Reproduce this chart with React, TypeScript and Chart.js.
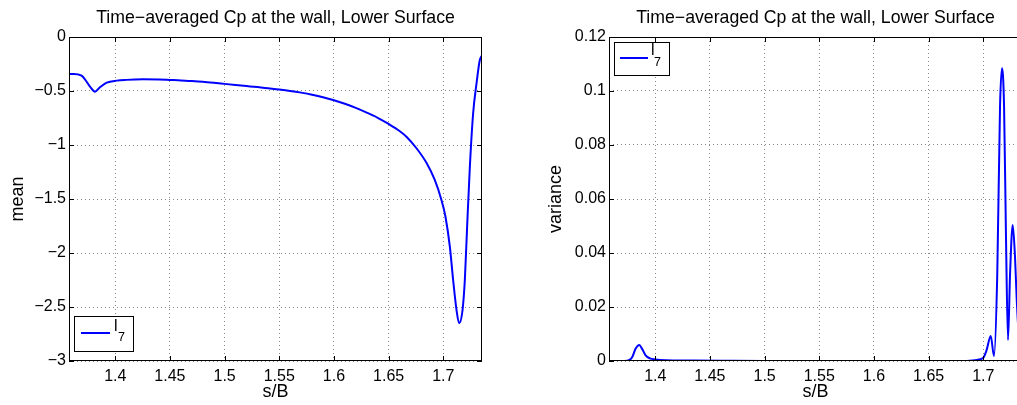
import React, { useEffect, useRef } from 'react';
import { Chart, registerables } from 'chart.js';

Chart.register(...registerables);

// ---------- data ----------
const meanS = [
  1.3577, 1.362, 1.366, 1.3695, 1.3723, 1.3769, 1.3815, 1.386, 1.3922, 1.4013, 1.41,
  1.4256, 1.44, 1.45, 1.46, 1.47, 1.48, 1.49, 1.5, 1.51, 1.52, 1.53, 1.54, 1.55, 1.56,
  1.57, 1.58, 1.59, 1.6, 1.61, 1.62, 1.63, 1.64, 1.65, 1.66, 1.6663, 1.6755, 1.6846,
  1.6922, 1.6983, 1.702, 1.706, 1.709, 1.7121, 1.7145, 1.7176, 1.7197, 1.7218, 1.7243,
  1.7273, 1.7304, 1.7334, 1.7354,
];
const meanValues = [
  -0.343, -0.343, -0.346, -0.36, -0.392, -0.46, -0.506, -0.466, -0.423, -0.404, -0.397,
  -0.392, -0.394, -0.398, -0.402, -0.408, -0.415, -0.424, -0.434, -0.444, -0.454, -0.464,
  -0.475, -0.486, -0.499, -0.515, -0.534, -0.557, -0.585, -0.618, -0.656, -0.7, -0.748,
  -0.805, -0.87, -0.923, -1.03, -1.165, -1.324, -1.509, -1.664, -1.941, -2.25, -2.528,
  -2.65, -2.528, -2.25, -1.756, -1.2, -0.706, -0.429, -0.213, -0.17,
];

const varS = [
  1.3577, 1.372, 1.376, 1.379, 1.382, 1.3854, 1.388, 1.391, 1.395, 1.4, 1.41, 1.43,
  1.46, 1.5, 1.6, 1.68, 1.69, 1.695, 1.7, 1.703, 1.7068, 1.7098, 1.7128, 1.7153,
  1.7171, 1.719, 1.7208, 1.7226, 1.7245, 1.7269, 1.729, 1.7306, 1.733, 1.7354,
];
const varValues = [
  0, 0, 0.0003, 0.0015, 0.0045, 0.0059, 0.0045, 0.0022, 0.001, 0.0006, 0.0003, 0.0002,
  0.0001, 0, 0, 0, 0.0002, 0.0005, 0.0012, 0.004, 0.0093, 0.0018, 0.0325, 0.0942,
  0.1084, 0.0942, 0.0448, 0.0078, 0.0325, 0.0504, 0.0386, 0.0226, 0.008, 0.012,
];

const xTicks = [1.4, 1.45, 1.5, 1.55, 1.6, 1.65, 1.7];
const meanTicks = [0, -0.5, -1, -1.5, -2, -2.5, -3];
const varTicks = [0, 0.02, 0.04, 0.06, 0.08, 0.1, 0.12];

const titleText = 'Time\u2212averaged Cp at the wall, Lower Surface';
const xLabel = 's/B';
const meanLabel = 'mean';
const varLabel = 'variance';
const legendMain = 'l';
const legendSub = '7';

const X_MIN = 1.3577;
const X_MAX = 1.7354;

const FONT = '"Liberation Sans", Arial, Helvetica, sans-serif';

const fmt = (v: number) => (v < 0 ? '\u2212' + String(Math.abs(v)) : String(v));

type LegendLayout = {
  anchor: 'top' | 'bottom';
  box: [number, number, number, number];
  line: [number, number, number];
  mainPos: [number, number];
  subPos: [number, number];
};

function makeConfig(
  xs: number[],
  ys: number[],
  yTicks: number[],
  yMin: number,
  yMax: number,
  yLabel: string,
  yAxisWidth: number,
  yTitlePad: number,
  legend: LegendLayout
): any {
  const deco = {
    id: 'deco',
    afterDraw(chart: any) {
      const ctx = chart.ctx;
      const a = chart.chartArea;
      const xs_ = chart.scales.x;
      const ys_ = chart.scales.y;
      ctx.save();
      ctx.strokeStyle = '#000';
      ctx.lineWidth = 1;
      ctx.strokeRect(a.left + 0.5, a.top + 0.5, a.right - a.left - 1, a.bottom - a.top - 1);
      ctx.beginPath();
      const tl = 5;
      for (const v of xTicks) {
        const px = Math.round(xs_.getPixelForValue(v)) + 0.5;
        ctx.moveTo(px, a.bottom);
        ctx.lineTo(px, a.bottom - tl);
        ctx.moveTo(px, a.top);
        ctx.lineTo(px, a.top + tl);
      }
      for (const v of yTicks) {
        const py = Math.round(ys_.getPixelForValue(v)) + 0.5;
        ctx.moveTo(a.left, py);
        ctx.lineTo(a.left + tl, py);
        ctx.moveTo(a.right, py);
        ctx.lineTo(a.right - tl, py);
      }
      ctx.stroke();
      ctx.fillStyle = '#000';
      ctx.font = `17.7px ${FONT}`;
      ctx.textAlign = 'center';
      ctx.textBaseline = 'alphabetic';
      ctx.fillText(titleText, (a.left + a.right) / 2, 22.5);
      const ox = a.left;
      const oy = legend.anchor === 'top' ? a.top : a.bottom;
      const [bx, by, bw, bh] = legend.box;
      ctx.fillStyle = '#fff';
      ctx.fillRect(ox + bx, oy + by, bw, bh);
      ctx.strokeStyle = '#000';
      ctx.lineWidth = 1;
      ctx.strokeRect(ox + bx + 0.5, oy + by + 0.5, bw, bh);
      ctx.strokeStyle = '#0000ff';
      ctx.lineWidth = 2;
      ctx.beginPath();
      ctx.moveTo(ox + legend.line[0], oy + legend.line[2]);
      ctx.lineTo(ox + legend.line[1], oy + legend.line[2]);
      ctx.stroke();
      ctx.fillStyle = '#000';
      ctx.textAlign = 'left';
      ctx.font = `16px ${FONT}`;
      ctx.fillText(legendMain, ox + legend.mainPos[0], oy + legend.mainPos[1]);
      ctx.font = `12.5px ${FONT}`;
      ctx.fillText(legendSub, ox + legend.subPos[0], oy + legend.subPos[1]);
      ctx.restore();
    },
  };

  return {
    type: 'line',
    data: {
      datasets: [
        {
          data: xs.map((x, i) => ({ x, y: ys[i] })),
          borderColor: '#0000ff',
          borderWidth: 2,
          pointRadius: 0,
          fill: false,
          cubicInterpolationMode: 'monotone',
        },
      ],
    },
    options: {
      responsive: false,
      animation: false,
      devicePixelRatio: 1,
      layout: { padding: { top: 37, right: 18, bottom: 0, left: 0 } },
      plugins: { legend: { display: false }, title: { display: false }, tooltip: { enabled: false } },
      scales: {
        x: {
          type: 'linear',
          min: X_MIN,
          max: X_MAX,
          afterBuildTicks: (s: any) => {
            s.ticks = xTicks.map((v) => ({ value: v }));
          },
          afterFit: (s: any) => {
            s.height = 44;
          },
          ticks: {
            callback: (v: number) => fmt(v),
            font: { family: FONT, size: 16 },
            color: '#000',
            padding: 6,
            maxRotation: 0,
            autoSkip: false,
          },
          grid: { color: '#8a8a8a', lineWidth: 1, drawTicks: false },
          border: { display: false, dash: [1, 3] },
          title: {
            display: true,
            text: xLabel,
            color: '#000',
            font: { family: FONT, size: 18 },
            padding: { top: 0, bottom: 2 },
          },
        },
        y: {
          type: 'linear',
          min: yMin,
          max: yMax,
          afterBuildTicks: (s: any) => {
            s.ticks = yTicks.map((v) => ({ value: v }));
          },
          afterFit: (s: any) => {
            s.width = yAxisWidth;
          },
          ticks: {
            callback: (v: number) => fmt(v),
            font: { family: FONT, size: 16 },
            color: '#000',
            padding: 3,
            autoSkip: false,
          },
          grid: { color: '#8a8a8a', lineWidth: 1, drawTicks: false },
          border: { display: false, dash: [1, 3] },
          title: {
            display: true,
            text: yLabel,
            color: '#000',
            font: { family: FONT, size: 18 },
            padding: { top: yTitlePad, bottom: 0 },
          },
        },
      },
    },
    plugins: [deco],
  };
}

function ChartCanvas(props: { config: () => any; left: number; width: number }) {
  const ref = useRef<HTMLCanvasElement | null>(null);
  useEffect(() => {
    if (!ref.current) return;
    const chart = new Chart(ref.current, props.config());
    return () => chart.destroy();
  }, []);
  return (
    <canvas
      ref={ref}
      width={props.width}
      height={405}
      style={{ position: 'absolute', left: props.left, top: 0, width: props.width, height: 405 }}
    />
  );
}

export default function App() {
  return (
    <div
      style={{
        position: 'fixed',
        left: 0,
        top: 0,
        width: 1017,
        height: 405,
        overflow: 'hidden',
        background: '#fff',
      }}
    >
      <ChartCanvas
        left={0}
        width={500}
        config={() =>
          makeConfig(meanS, meanValues, meanTicks, -3, 0, meanLabel, 69, 7.5, {
            anchor: 'bottom',
            box: [5, -45, 59, 35],
            line: [12, 41, -28],
            mainPos: [45, -30],
            subPos: [49, -20],
          })
        }
      />
      <ChartCanvas
        left={500}
        width={540}
        config={() =>
          makeConfig(varS, varValues, varTicks, 0, 0.12, varLabel, 109, 45, {
            anchor: 'top',
            box: [5, 5, 55, 33],
            line: [11, 39, 21],
            mainPos: [42, 18],
            subPos: [45, 29],
          })
        }
      />
    </div>
  );
}
